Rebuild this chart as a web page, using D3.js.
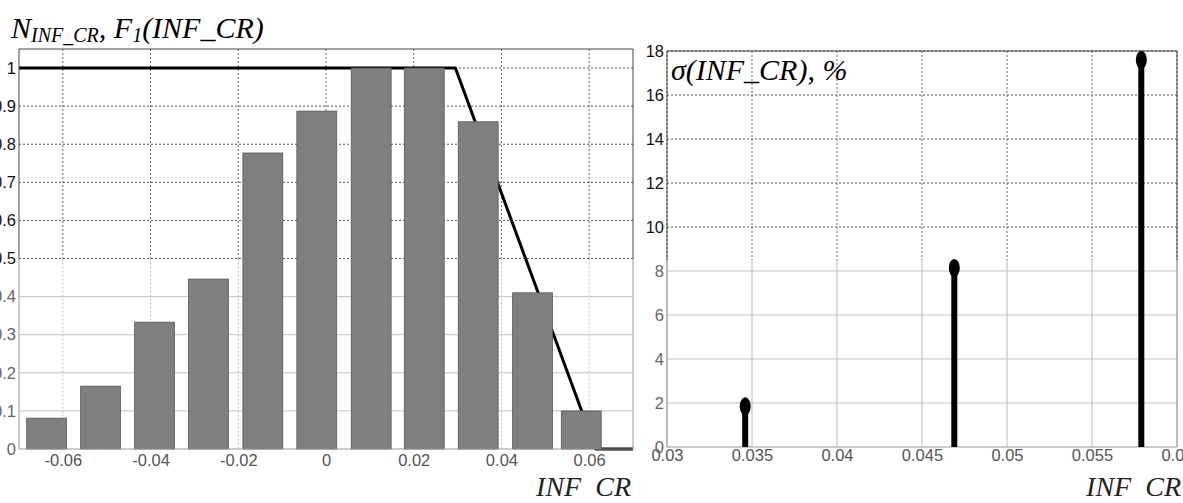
<!DOCTYPE html>
<html>
<head>
<meta charset="utf-8">
<script src="https://cdn.jsdelivr.net/npm/d3@7"></script>
<style>
  body { margin: 0; background: #fff; }
  svg { display: block; }
  .ttl { font-family: "Liberation Serif", "Times New Roman", serif; font-style: italic; }
</style>
</head>
<body>
<div id="chart"></div>
<script>
// histogram of INF_CR (normalised counts) + membership function F1
const binCenters = [-0.0637, -0.0514, -0.0391, -0.0268, -0.0144, -0.0021, 0.0103, 0.0224, 0.0347, 0.0471, 0.0582];
const binCounts = [0.081, 0.165, 0.333, 0.446, 0.777, 0.887, 1.0, 1.0, 0.859, 0.41, 0.10];
const f1X = [-0.07, 0.0295, 0.0615, 0.07];
const f1Y = [1, 1, 0, 0];
const leftXTicks = [-0.06, -0.04, -0.02, 0, 0.02, 0.04, 0.06];
const leftXLabels = ["-0.06", "-0.04", "-0.02", "0", "0.02", "0.04", "0.06"];
const leftYTicks = [0, 0.1, 0.2, 0.3, 0.4, 0.5, 0.6, 0.7, 0.8, 0.9, 1];
const leftYLabels = ["0", "0.1", "0.2", "0.3", "0.4", "0.5", "0.6", "0.7", "0.8", "0.9", "1"];

// sigma(INF_CR), %
const sigmaX = [0.0346, 0.0469, 0.0579];
const sigmaY = [1.85, 8.14, 17.6];
const rightXTicks = [0.03, 0.035, 0.04, 0.045, 0.05, 0.055, 0.06];
const rightXLabels = ["0.03", "0.035", "0.04", "0.045", "0.05", "0.055", "0.06"];
const rightYTicks = [0, 2, 4, 6, 8, 10, 12, 14, 16, 18];
const rightYLabels = ["0", "2", "4", "6", "8", "10", "12", "14", "16", "18"];

const width = 1183;
const height = 503;
const tickFont = "'Liberation Sans Narrow', 'Arial Narrow', 'Liberation Sans', sans-serif";

const svg = d3.select("#chart").append("svg")
    .attr("width", width)
    .attr("height", height);

// the lower half of the original is a lighter, blurrier scan -> two grid styles
const drawGrid = (g, x, y, xTicks, yTicks, split, lowerVDash) => {
    const [x0, x1] = x.range();
    const [yb, yt] = y.range();
    const ys = y(split);
    yTicks.filter((d) => d !== 0).forEach((d) => {
        const upper = d >= split;
        g.append("line")
            .attr("x1", x0).attr("x2", x1)
            .attr("y1", y(d)).attr("y2", y(d))
            .attr("stroke", upper ? "#555" : "#c4c4c4")
            .attr("stroke-width", 1)
            .attr("stroke-dasharray", upper ? "2,2" : null);
    });
    xTicks.forEach((d) => {
        g.append("line")
            .attr("x1", x(d)).attr("x2", x(d))
            .attr("y1", yt).attr("y2", ys)
            .attr("stroke", "#666")
            .attr("stroke-dasharray", "2,2");
        g.append("line")
            .attr("x1", x(d)).attr("x2", x(d))
            .attr("y1", ys).attr("y2", yb)
            .attr("stroke", "#bbb")
            .attr("stroke-dasharray", lowerVDash ? "2,2" : null);
    });
};

const drawFrame = (g, x, y, split) => {
    const [x0, x1] = x.range();
    const [yb, yt] = y.range();
    const ys = y(split);
    g.append("path")
        .attr("d", `M${x0},${ys}V${yt}H${x1}V${ys}`)
        .attr("fill", "none").attr("stroke", "#444");
    g.append("path")
        .attr("d", `M${x0},${ys}V${yb}H${x1}V${ys}`)
        .attr("fill", "none").attr("stroke", "#999");
};

const drawAxes = (g, x, y, xTicks, xLabels, yTicks, yLabels, split, xPad) => {
    const [x0] = x.range();
    const [yb] = y.range();
    g.append("g")
        .attr("transform", `translate(0,${yb})`)
        .call(d3.axisBottom(x).tickValues(xTicks).tickSize(0).tickPadding(xPad)
            .tickFormat((d, i) => xLabels[i]))
        .attr("font-family", tickFont)
        .attr("font-size", 16.5)
        .call((a) => a.select(".domain").remove())
        .selectAll("text").attr("fill", "#555");
    g.append("g")
        .attr("transform", `translate(${x0},0)`)
        .call(d3.axisLeft(y).tickValues(yTicks).tickSize(0).tickPadding(3)
            .tickFormat((d, i) => yLabels[i]))
        .attr("font-family", tickFont)
        .attr("font-size", 16.5)
        .call((a) => a.select(".domain").remove())
        .selectAll("text").attr("fill", (d) => (d >= split ? "#111" : "#666"));
};

// ---------------- left chart ----------------
const xL = d3.scaleLinear().domain([-0.07, 0.07]).range([19, 633]);
const yL = d3.scaleLinear().domain([0, 1.05]).range([449, 49]);
const left = svg.append("g");

drawGrid(left, xL, yL, leftXTicks, leftYTicks, 0.5, true);

const f1Line = d3.line().x((d, i) => xL(f1X[i])).y((d) => yL(d));
left.append("path")
    .attr("d", f1Line(f1Y))
    .attr("fill", "none")
    .attr("stroke", "#000")
    .attr("stroke-width", 3)
    .attr("stroke-linejoin", "round");

const barW = xL(0.0091) - xL(0);
left.selectAll("rect.bar").data(binCounts).enter().append("rect")
    .attr("class", "bar")
    .attr("x", (d, i) => xL(binCenters[i]) - barW / 2)
    .attr("width", barW)
    .attr("y", (d) => yL(d))
    .attr("height", (d) => yL(0) - yL(d))
    .attr("fill", "#7f7f7f")
    .attr("stroke", "#5a5a5a")
    .attr("stroke-width", 0.8);

drawFrame(left, xL, yL, 0.5);
drawAxes(left, xL, yL, leftXTicks, leftXLabels, leftYTicks, leftYLabels, 0.5, 5);

const t1 = svg.append("text").attr("class", "ttl").attr("x", 11).attr("y", 38).attr("font-size", 30);
t1.append("tspan").text("N");
t1.append("tspan").attr("font-size", 20).attr("dy", 4).text("INF_CR");
t1.append("tspan").attr("dy", -4).text(", F");
t1.append("tspan").attr("font-size", 20).attr("dy", 4).text("1");
t1.append("tspan").attr("dy", -4).text("(INF_CR)");

// ---------------- right chart ----------------
const xR = d3.scaleLinear().domain([0.03, 0.06]).range([667, 1177]);
const yR = d3.scaleLinear().domain([0, 18]).range([447, 51]);
const right = svg.append("g");

drawGrid(right, xR, yR, rightXTicks, rightYTicks, 8.5, false);
drawFrame(right, xR, yR, 8.5);

right.selectAll("line.stem").data(sigmaY).enter().append("line")
    .attr("class", "stem")
    .attr("x1", (d, i) => xR(sigmaX[i]))
    .attr("x2", (d, i) => xR(sigmaX[i]))
    .attr("y1", yR(0))
    .attr("y2", (d) => yR(d))
    .attr("stroke", "#000")
    .attr("stroke-width", 6);

right.selectAll("ellipse.mark").data(sigmaY).enter().append("ellipse")
    .attr("class", "mark")
    .attr("cx", (d, i) => xR(sigmaX[i]))
    .attr("cy", (d) => yR(d))
    .attr("rx", 5.5)
    .attr("ry", 9)
    .attr("fill", "#000");

drawAxes(right, xR, yR, rightXTicks, rightXLabels, rightYTicks, rightYLabels, 8.5, 2);

svg.append("text").attr("class", "ttl")
    .attr("x", 671).attr("y", 80).attr("font-size", 30)
    .text("σ(INF_CR), %");

// x-axis names, underscore cut by the bottom edge as in the scan
svg.append("clipPath").attr("id", "cut")
    .append("rect").attr("x", 0).attr("y", 0).attr("width", width).attr("height", 498);
svg.append("text").attr("class", "ttl").attr("clip-path", "url(#cut)")
    .attr("x", 631).attr("y", 496).attr("font-size", 28).attr("text-anchor", "end").attr("fill", "#222")
    .text("INF_CR");
svg.append("text").attr("class", "ttl").attr("clip-path", "url(#cut)")
    .attr("x", 1181).attr("y", 496).attr("font-size", 28).attr("text-anchor", "end").attr("fill", "#222")
    .text("INF_CR");
</script>
</body>
</html>
